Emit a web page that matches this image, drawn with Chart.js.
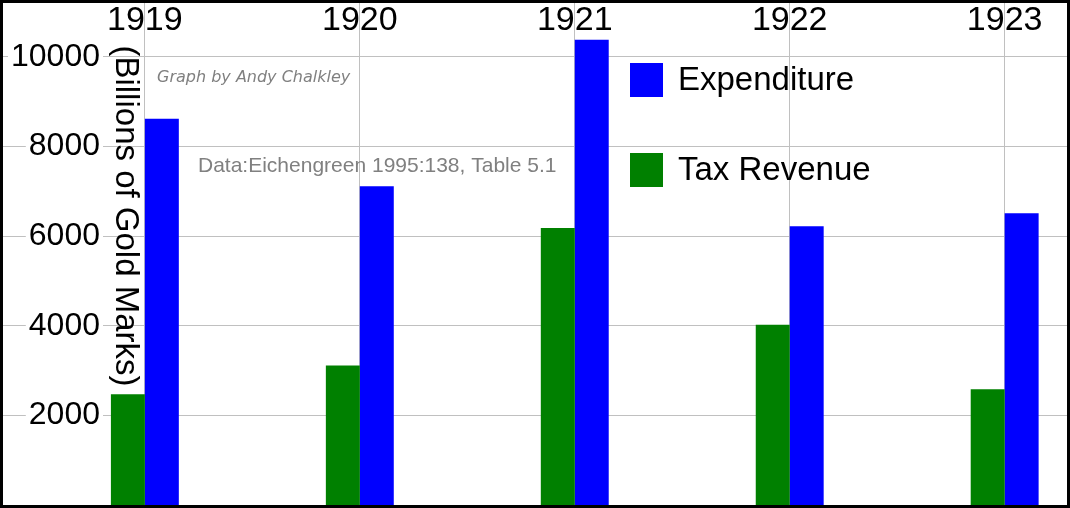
<!DOCTYPE html>
<html>
<head>
<script src="https://cdn.jsdelivr.net/npm/chart.js@4"></script>
<style>
  body { margin: 0; background: #fff; }
  #wrap { width: 1070px; height: 508px; border: 3px solid #000; box-sizing: border-box; }
</style>
</head>
<body>
<div id="wrap"><canvas id="c" width="1064" height="502"></canvas></div>
<script>
// Data
const years = [1919, 1920, 1921, 1922, 1923];
const taxRevenue = [2470, 3110, 6180, 4020, 2580];
const expenditure = [8620, 7110, 10380, 6220, 6510];
const yTicks = [2000, 4000, 6000, 8000, 10000];

const labelsPlugin = {
  id: 'labels',
  afterDraw(chart) {
    const ctx = chart.ctx;
    const x = chart.scales.x, y = chart.scales.y;
    ctx.save();
    ctx.textBaseline = 'middle';
    // year labels
    ctx.font = '34px "Liberation Sans", Arial, sans-serif';
    ctx.fillStyle = '#000';
    ctx.textAlign = 'center';
    years.forEach(yr => ctx.fillText(String(yr), x.getPixelForValue(yr), 18));
    // y tick labels
    ctx.font = '32px "Liberation Sans", Arial, sans-serif';
    ctx.textAlign = 'right';
    yTicks.forEach(v => {
      const py = y.getPixelForValue(v);
      const w = ctx.measureText(String(v)).width;
      ctx.fillStyle = '#fff';
      ctx.fillRect(97 - w - 3, py - 15, w + 6, 30);
      ctx.fillStyle = '#000';
      ctx.fillText(String(v), 97, py);
    });
    // y title
    ctx.save();
    ctx.translate(122, 213);
    ctx.rotate(Math.PI / 2);
    ctx.textAlign = 'center';
    ctx.font = '33px "Liberation Sans", Arial, sans-serif';
    ctx.fillText('(Billions of Gold Marks)', 0, 0);
    ctx.restore();
    // credits
    ctx.textAlign = 'left';
    ctx.fillStyle = '#808080';
    ctx.font = 'italic 16px "DejaVu Sans", sans-serif';
    ctx.fillText('Graph by Andy Chalkley', 154, 75);
    ctx.font = '21px "Liberation Sans", Arial, sans-serif';
    ctx.fillText('Data:Eichengreen 1995:138, Table 5.1', 195, 163);
    // legend
    const ds = chart.data.datasets;
    const items = [[ds[1], 77], [ds[0], 167]];
    ctx.font = '33px "Liberation Sans", Arial, sans-serif';
    items.forEach(([d, cy]) => {
      ctx.fillStyle = d.backgroundColor;
      ctx.fillRect(627, cy - 17, 33, 34);
      ctx.fillStyle = '#000';
      ctx.fillText(d.label, 675, cy + 1);
    });
    ctx.restore();
  }
};

new Chart(document.getElementById('c'), {
  type: 'bar',
  data: {
    datasets: [
      { label: 'Tax Revenue', data: years.map((yr, i) => ({ x: yr, y: taxRevenue[i] })), backgroundColor: '#008000', barPercentage: 1, categoryPercentage: 0.316 },
      { label: 'Expenditure', data: years.map((yr, i) => ({ x: yr, y: expenditure[i] })), backgroundColor: '#0000ff', barPercentage: 1, categoryPercentage: 0.316 }
    ]
  },
  options: {
    responsive: false,
    animation: false,
    layout: { padding: 0 },
    plugins: { legend: { display: false }, tooltip: { enabled: false } },
    scales: {
      x: {
        type: 'linear', min: 1918.34, max: 1923.29, offset: false,
        afterBuildTicks: s => { s.ticks = years.map(v => ({ value: v })); },
        ticks: { display: false },
        grid: { color: '#c0c0c0', drawTicks: false, offset: false },
        border: { display: false }
      },
      y: {
        min: 0, max: 11200,
        afterBuildTicks: s => { s.ticks = yTicks.map(v => ({ value: v })); },
        ticks: { display: false },
        grid: { color: '#c0c0c0', drawTicks: false },
        border: { display: false }
      }
    }
  },
  plugins: [labelsPlugin]
});
</script>
</body>
</html>
